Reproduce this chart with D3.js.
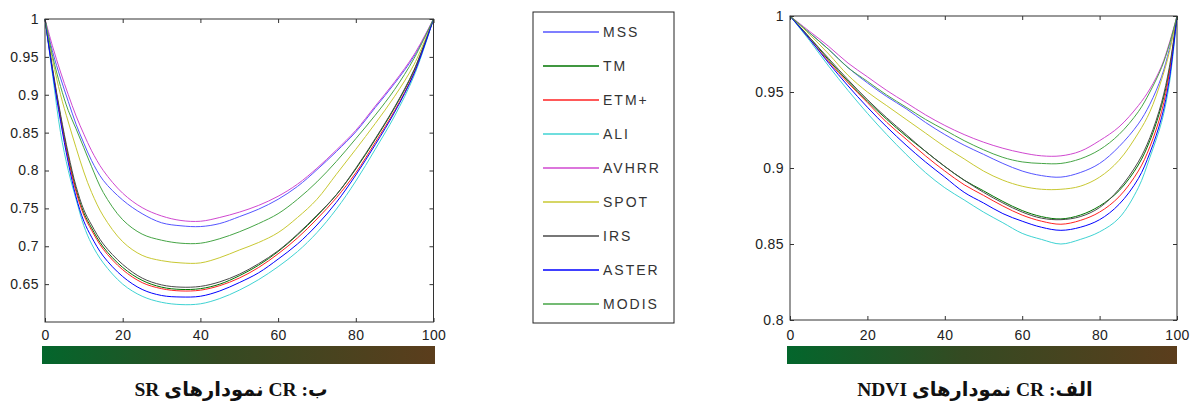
<!DOCTYPE html>
<html>
<head>
<meta charset="utf-8">
<script src="https://cdn.jsdelivr.net/npm/d3@7"></script>
<style>
  html, body { margin: 0; padding: 0; background: #fff; }
  svg { display: block; }
  .tick text { font-family: "Liberation Sans", Arial, sans-serif; font-size: 14px; fill: #222; letter-spacing: 0.4px; }
</style>
</head>
<body>
<svg id="chart" width="1191" height="402"></svg>
<script>
// ---------- DATA ----------
const sensors = ["MSS", "TM", "ETM+", "ALI", "AVHRR", "SPOT", "IRS", "ASTER", "MODIS"];
const sensorColors = ["#5555ff", "#007400", "#ff2222", "#3fd3d3", "#d048d0", "#c8c832", "#4a4a4a", "#0000ff", "#46a546"];

// SR chart (left)
const srX = [0, 2, 4, 6, 8, 10, 12, 15, 20, 25, 30, 35, 40, 45, 50, 55, 60, 65, 70, 75, 80, 85, 90, 95, 100];
const srMSS   = [1, 0.956, 0.922, 0.891, 0.861, 0.836, 0.813, 0.787, 0.761, 0.743, 0.731, 0.727, 0.726, 0.730, 0.739, 0.749, 0.762, 0.779, 0.801, 0.825, 0.851, 0.883, 0.915, 0.951, 1];
const srTM    = [1, 0.931, 0.871, 0.818, 0.775, 0.744, 0.724, 0.699, 0.672, 0.655, 0.646, 0.643, 0.644, 0.650, 0.661, 0.675, 0.693, 0.715, 0.740, 0.768, 0.802, 0.841, 0.883, 0.932, 1];
const srETM   = [1, 0.930, 0.869, 0.815, 0.772, 0.741, 0.721, 0.696, 0.669, 0.652, 0.644, 0.641, 0.642, 0.648, 0.658, 0.672, 0.690, 0.711, 0.736, 0.764, 0.797, 0.837, 0.879, 0.929, 1];
const srALI   = [1, 0.924, 0.850, 0.800, 0.762, 0.727, 0.703, 0.678, 0.650, 0.634, 0.626, 0.623, 0.624, 0.631, 0.642, 0.656, 0.673, 0.693, 0.718, 0.749, 0.786, 0.828, 0.872, 0.925, 1];
const srAVHRR = [1, 0.963, 0.930, 0.900, 0.872, 0.848, 0.826, 0.800, 0.770, 0.751, 0.740, 0.734, 0.733, 0.738, 0.745, 0.754, 0.766, 0.782, 0.803, 0.827, 0.853, 0.885, 0.917, 0.953, 1];
const srSPOT  = [1, 0.945, 0.900, 0.864, 0.830, 0.798, 0.771, 0.740, 0.706, 0.688, 0.681, 0.678, 0.678, 0.685, 0.695, 0.705, 0.718, 0.738, 0.762, 0.795, 0.828, 0.862, 0.898, 0.940, 1];
const srIRS   = [1, 0.933, 0.874, 0.822, 0.779, 0.748, 0.728, 0.703, 0.676, 0.658, 0.649, 0.646, 0.647, 0.653, 0.663, 0.677, 0.694, 0.716, 0.741, 0.768, 0.803, 0.842, 0.884, 0.933, 1];
const srASTER = [1, 0.928, 0.865, 0.810, 0.765, 0.733, 0.712, 0.687, 0.660, 0.643, 0.635, 0.633, 0.634, 0.641, 0.652, 0.665, 0.683, 0.703, 0.728, 0.758, 0.794, 0.834, 0.877, 0.928, 1];
const srMODIS = [1, 0.950, 0.911, 0.879, 0.855, 0.830, 0.805, 0.771, 0.735, 0.716, 0.708, 0.704, 0.704, 0.710, 0.719, 0.730, 0.743, 0.762, 0.785, 0.812, 0.842, 0.873, 0.907, 0.948, 1];
const srYTicks = [0.65, 0.7, 0.75, 0.8, 0.85, 0.9, 0.95, 1];

// NDVI chart (right)
const ndX = [0, 5, 10, 15, 20, 25, 30, 35, 40, 45, 50, 55, 60, 65, 70, 75, 80, 85, 90, 93, 96, 98, 100];
const ndMSS   = [1, 0.989, 0.978, 0.966, 0.956, 0.947, 0.939, 0.930, 0.922, 0.915, 0.909, 0.903, 0.898, 0.895, 0.894, 0.897, 0.903, 0.914, 0.929, 0.942, 0.960, 0.978, 1];
const ndTM    = [1, 0.986, 0.971, 0.957, 0.944, 0.932, 0.921, 0.911, 0.901, 0.892, 0.885, 0.878, 0.872, 0.868, 0.8665, 0.869, 0.875, 0.885, 0.902, 0.918, 0.941, 0.964, 1];
const ndETM   = [1, 0.985, 0.970, 0.956, 0.943, 0.930, 0.919, 0.908, 0.898, 0.889, 0.882, 0.875, 0.869, 0.865, 0.863, 0.8655, 0.871, 0.881, 0.898, 0.914, 0.937, 0.962, 1];
const ndALI   = [1, 0.984, 0.967, 0.951, 0.936, 0.922, 0.909, 0.897, 0.887, 0.879, 0.871, 0.864, 0.857, 0.853, 0.850, 0.853, 0.858, 0.867, 0.887, 0.907, 0.930, 0.955, 1];
const ndAVHRR = [1, 0.990, 0.980, 0.969, 0.960, 0.951, 0.943, 0.935, 0.928, 0.922, 0.917, 0.913, 0.910, 0.908, 0.908, 0.911, 0.918, 0.927, 0.941, 0.952, 0.967, 0.982, 1];
const ndSPOT  = [1, 0.988, 0.975, 0.961, 0.950, 0.941, 0.932, 0.923, 0.914, 0.906, 0.898, 0.892, 0.888, 0.886, 0.886, 0.888, 0.894, 0.905, 0.923, 0.937, 0.958, 0.976, 1];
const ndIRS   = [1, 0.986, 0.972, 0.958, 0.945, 0.933, 0.922, 0.911, 0.901, 0.892, 0.884, 0.877, 0.871, 0.867, 0.866, 0.868, 0.874, 0.886, 0.904, 0.920, 0.943, 0.966, 1];
const ndASTER = [1, 0.985, 0.969, 0.954, 0.940, 0.927, 0.915, 0.904, 0.894, 0.884, 0.877, 0.870, 0.865, 0.861, 0.859, 0.861, 0.866, 0.876, 0.893, 0.910, 0.933, 0.958, 1];
const ndMODIS = [1, 0.989, 0.978, 0.966, 0.957, 0.948, 0.940, 0.932, 0.925, 0.918, 0.912, 0.907, 0.904, 0.903, 0.903, 0.906, 0.912, 0.922, 0.937, 0.950, 0.966, 0.981, 1];
const ndYTicks = [0.8, 0.85, 0.9, 0.95, 1];

const xTicks = [0, 20, 40, 60, 80, 100];
const captionSR = "ب: CR نمودارهای SR";
const captionNDVI = "الف: CR نمودارهای NDVI";

// ---------- DRAW ----------
const svg = d3.select("#chart");
const defs = svg.append("defs");
const grad = defs.append("linearGradient").attr("id", "bar").attr("x1", "0%").attr("x2", "100%");
[["0%", "#03662c"], ["45%", "#344a22"], ["100%", "#5b3d1c"]].forEach(([o, c]) =>
  grad.append("stop").attr("offset", o).attr("stop-color", c));

function drawChart(cfg) {
  const x = d3.scaleLinear().domain([0, 100]).range([cfg.left, cfg.right]);
  const y = d3.scaleLinear().domain(cfg.yDomain).range([cfg.bottom, cfg.top]);
  const g = svg.append("g");

  const line = d3.line().x((d, i) => x(cfg.xs[i])).y(d => y(d)).curve(d3.curveCatmullRom.alpha(0.5));
  g.append("g").selectAll("path").data(cfg.series).join("path")
    .attr("d", d => line(d))
    .attr("fill", "none")
    .attr("stroke", (d, i) => sensorColors[i])
    .attr("stroke-width", 1);

  const fmt = d => String(d);
  const axL = g.append("g").attr("transform", `translate(${cfg.left},0)`)
    .call(d3.axisLeft(y).tickValues(cfg.yTicks).tickFormat(fmt).tickSize(-4).tickPadding(6));
  const axR = g.append("g").attr("transform", `translate(${cfg.right},0)`)
    .call(d3.axisRight(y).tickValues(cfg.yTicks).tickFormat("").tickSize(-4));
  const axB = g.append("g").attr("transform", `translate(0,${cfg.bottom})`)
    .call(d3.axisBottom(x).tickValues(xTicks).tickFormat(fmt).tickSize(-4).tickPadding(cfg.xPad));
  const axT = g.append("g").attr("transform", `translate(0,${cfg.top})`)
    .call(d3.axisTop(x).tickValues(xTicks).tickFormat("").tickSize(-4));
  [axL, axR, axB, axT].forEach(a => {
    a.select(".domain").remove();
    a.selectAll(".tick line").attr("stroke", "#333");
    a.attr("font-family", null).attr("font-size", null);
  });

  g.append("rect")
    .attr("x", cfg.left).attr("y", cfg.top)
    .attr("width", cfg.right - cfg.left).attr("height", cfg.bottom - cfg.top)
    .attr("fill", "none").attr("stroke", "#333").attr("stroke-width", 1);

  g.append("rect")
    .attr("x", cfg.barX0).attr("y", 346)
    .attr("width", cfg.barX1 - cfg.barX0).attr("height", 18)
    .attr("fill", "url(#bar)");

  g.append("text")
    .attr("x", cfg.capX).attr("y", 396)
    .attr("text-anchor", "middle")
    .attr("direction", "rtl")
    .style("unicode-bidi", "embed")
    .attr("font-family", "'Liberation Serif', 'DejaVu Sans', serif")
    .attr("font-weight", "bold")
    .attr("font-size", 19.5)
    .attr("fill", "#111")
    .text(cfg.caption);
}

drawChart({
  left: 45, right: 433.5, top: 19, bottom: 322, xPad: 8,
  yDomain: [0.6, 1], yTicks: srYTicks, xs: srX,
  series: [srMSS, srTM, srETM, srALI, srAVHRR, srSPOT, srIRS, srASTER, srMODIS],
  barX0: 42, barX1: 435, capX: 231, caption: captionSR
});

drawChart({
  left: 790, right: 1177, top: 16, bottom: 320, xPad: 10,
  yDomain: [0.8, 1], yTicks: ndYTicks, xs: ndX,
  series: [ndMSS, ndTM, ndETM, ndALI, ndAVHRR, ndSPOT, ndIRS, ndASTER, ndMODIS],
  barX0: 787, barX1: 1177, capX: 975, caption: captionNDVI
});

// Legend
const lg = svg.append("g");
lg.append("rect").attr("x", 533).attr("y", 12).attr("width", 141).attr("height", 311)
  .attr("fill", "#fff").attr("stroke", "#222").attr("stroke-width", 1);
const ly = d3.scalePoint().domain(sensors).range([32, 304]);
const items = lg.selectAll("g.item").data(sensors).join("g").attr("class", "item")
  .attr("transform", d => `translate(0,${ly(d)})`);
items.append("line").attr("x1", 543).attr("x2", 599).attr("y1", 0).attr("y2", 0)
  .attr("stroke", (d, i) => sensorColors[i]).attr("stroke-width", 1.5);
items.append("text").attr("x", 603).attr("y", 0).attr("dy", "0.36em")
  .attr("font-family", "'Liberation Sans', Arial, sans-serif").attr("font-size", 14)
  .attr("letter-spacing", "2px").attr("fill", "#333").text(d => d);
</script>
</body>
</html>
